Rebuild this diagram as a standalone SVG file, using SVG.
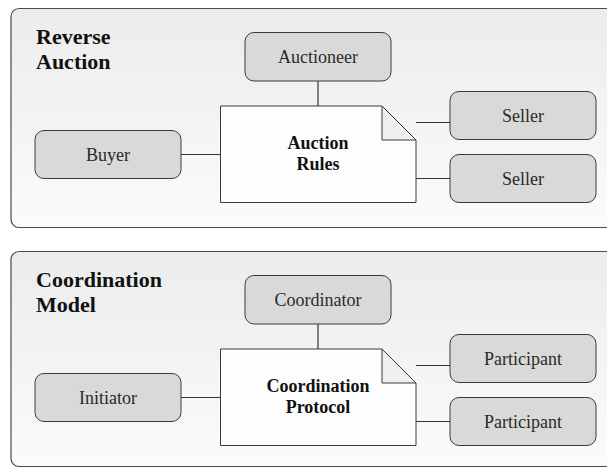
<svg xmlns="http://www.w3.org/2000/svg" width="607" height="468" viewBox="0 0 607 468">
<defs>
<linearGradient id="pg" x1="0" y1="0" x2="0" y2="1">
<stop offset="0" stop-color="#ececec"/>
<stop offset="1" stop-color="#fbfbfb"/>
</linearGradient>
<style>
.panel{fill:url(#pg);stroke:#4a4a4a;stroke-width:1.2}
.box{fill:#d9d9d9;stroke:#3a3a3a;stroke-width:1}
.doc{fill:#fdfdfd;stroke:#3a3a3a;stroke-width:1}
.fold{fill:#efefef;stroke:#3a3a3a;stroke-width:1}
text{font-family:'Liberation Serif','DejaVu Serif',serif}
.lbl{font-size:18px;fill:#2a2a2a;text-anchor:middle}
.dl{font-size:18px;font-weight:bold;fill:#111;text-anchor:middle}
.ttl{font-size:22px;font-weight:bold;fill:#111}
.conn line{stroke:#333;stroke-width:1.2}
</style>
</defs>
<g id="panel-reverse-auction">
<rect class="panel" x="11" y="8.5" width="620" height="219" rx="8"/>
<text class="ttl" x="36" y="44" font-family="Liberation Serif, DejaVu Serif, serif">Reverse</text>
<text class="ttl" x="36" y="69" font-family="Liberation Serif, DejaVu Serif, serif">Auction</text>
</g>
<g id="panel-coordination-model">
<rect class="panel" x="11" y="251.5" width="620" height="215" rx="8"/>
<text class="ttl" x="36" y="287" font-family="Liberation Serif, DejaVu Serif, serif">Coordination</text>
<text class="ttl" x="36" y="312" font-family="Liberation Serif, DejaVu Serif, serif">Model</text>
</g>
<g class="conn" id="connectors">
<line x1="318" y1="81" x2="318" y2="106"/>
<line x1="181" y1="154.5" x2="220" y2="154.5"/>
<line x1="416" y1="122.5" x2="450" y2="122.5"/>
<line x1="416" y1="178.5" x2="450" y2="178.5"/>
<line x1="318" y1="324" x2="318" y2="349"/>
<line x1="181" y1="397.5" x2="220" y2="397.5"/>
<line x1="416" y1="365.5" x2="450" y2="365.5"/>
<line x1="416" y1="421.5" x2="450" y2="421.5"/>
</g>
<g id="auctioneer">
<rect class="box" x="245" y="32.5" width="146" height="48.5" rx="9"/>
<text class="lbl" x="318" y="62.5" font-family="Liberation Serif, DejaVu Serif, serif">Auctioneer</text>
</g>
<g id="buyer">
<rect class="box" x="35" y="130.5" width="146" height="48" rx="9"/>
<text class="lbl" x="108" y="160.5" font-family="Liberation Serif, DejaVu Serif, serif">Buyer</text>
</g>
<g id="seller-1">
<rect class="box" x="450" y="91.5" width="146" height="48" rx="9"/>
<text class="lbl" x="523" y="121.5" font-family="Liberation Serif, DejaVu Serif, serif">Seller</text>
</g>
<g id="seller-2">
<rect class="box" x="450" y="154.5" width="146" height="48" rx="9"/>
<text class="lbl" x="523" y="184.5" font-family="Liberation Serif, DejaVu Serif, serif">Seller</text>
</g>
<g id="auction-rules">
<path class="doc" d="M220.5,106 H382 L416,140 V202.5 H220.5 Z"/>
<path class="fold" d="M382,106 V140 H416 Z"/>
<text class="dl" x="318" y="149" font-family="Liberation Serif, DejaVu Serif, serif">Auction</text>
<text class="dl" x="318" y="170" font-family="Liberation Serif, DejaVu Serif, serif">Rules</text>
</g>
<g id="coordinator">
<rect class="box" x="245" y="275.5" width="146" height="48.5" rx="9"/>
<text class="lbl" x="318" y="305.5" font-family="Liberation Serif, DejaVu Serif, serif">Coordinator</text>
</g>
<g id="initiator">
<rect class="box" x="35" y="373.5" width="146" height="48" rx="9"/>
<text class="lbl" x="108" y="403.5" font-family="Liberation Serif, DejaVu Serif, serif">Initiator</text>
</g>
<g id="participant-1">
<rect class="box" x="450" y="334.5" width="146" height="48" rx="9"/>
<text class="lbl" x="523" y="364.5" font-family="Liberation Serif, DejaVu Serif, serif">Participant</text>
</g>
<g id="participant-2">
<rect class="box" x="450" y="397.5" width="146" height="48" rx="9"/>
<text class="lbl" x="523" y="427.5" font-family="Liberation Serif, DejaVu Serif, serif">Participant</text>
</g>
<g id="coordination-protocol">
<path class="doc" d="M220.5,349 H382 L416,383 V445.5 H220.5 Z"/>
<path class="fold" d="M382,349 V383 H416 Z"/>
<text class="dl" x="318" y="392" font-family="Liberation Serif, DejaVu Serif, serif">Coordination</text>
<text class="dl" x="318" y="413" font-family="Liberation Serif, DejaVu Serif, serif">Protocol</text>
</g>
</svg>
